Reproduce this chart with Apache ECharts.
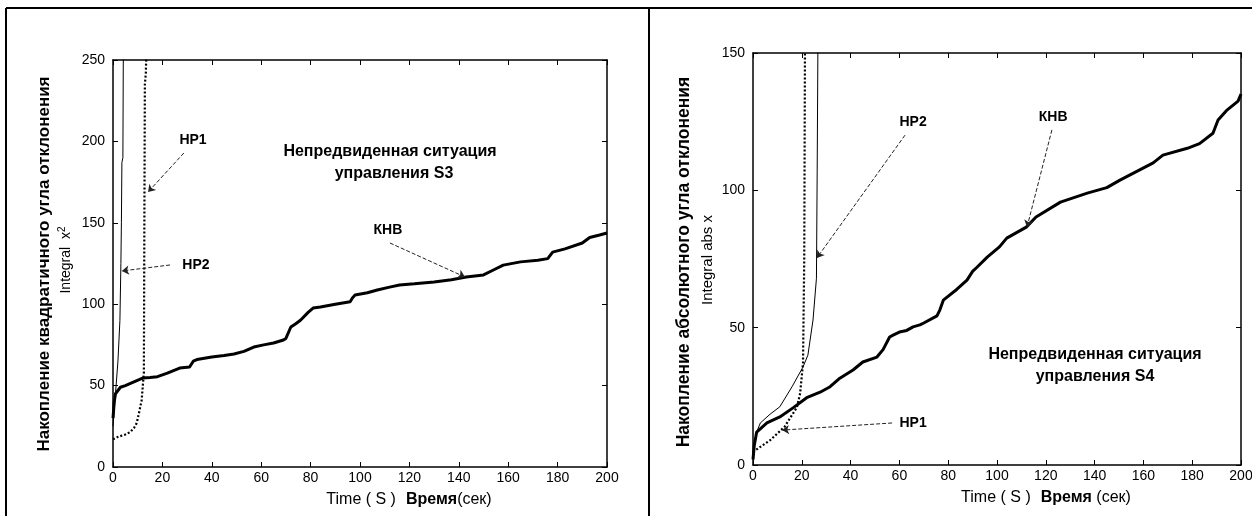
<!DOCTYPE html>
<html>
<head>
<meta charset="utf-8">
<script src="https://cdn.jsdelivr.net/npm/echarts@6/dist/echarts.min.js"></script>
<style>
  html, body { margin: 0; padding: 0; background: #fff; }
  #chart { width: 1252px; height: 516px; }
</style>
</head>
<body>
<div id="chart"></div>
<script>
// --- S3 panel (left): integral of x^2
const s3KhbTime = [0, 0.5, 1, 3, 5, 8, 12, 15, 18, 22, 27, 31, 32.5, 34, 40, 45, 49, 53, 57, 61, 65, 69, 70, 72, 74, 76, 79, 81, 84, 90, 96, 97, 98, 103, 107, 112, 116, 122, 130, 137, 143, 150, 154, 158, 165, 172, 176, 178, 183, 190, 193, 197, 200];
const s3KhbValue = [30, 40, 45, 49, 50, 52, 54.6, 55, 55.5, 57.7, 60.8, 61.4, 65, 66, 67.6, 68.5, 69.4, 71, 73.7, 75, 76.2, 78, 79, 86, 88, 90.3, 95, 97.6, 98.3, 100, 101.5, 104, 105.6, 107, 108.7, 110.5, 111.8, 112.5, 113.6, 115, 116.7, 118, 121, 124, 126, 127, 128, 132, 134, 137.6, 141, 142.5, 143.7];
const s3Hp2Time = [0, 0.5, 1, 2, 2.8, 3.2, 3.4, 3.6, 4, 4.2];
const s3Hp2Value = [25, 35, 45, 65, 90, 125, 150, 187, 190, 260];
const s3Hp1Time = [0, 2, 5, 7, 8.5, 9.6, 10.5, 11.6, 12.5, 12.7, 12.9, 13.3, 13.5];
const s3Hp1Value = [17, 18.5, 20, 21.5, 24, 27, 33, 41, 58, 150, 235, 242, 255];

// --- S4 panel (right): integral of abs x
const s4KhbTime = [0, 0.5, 1.5, 5.7, 11, 16.4, 22, 27.5, 31.6, 35.6, 41, 45, 50.8, 53.3, 56, 57.4, 60, 63, 65.6, 68.4, 70, 75.4, 76.6, 78, 83.6, 87.7, 90, 91.8, 96, 101, 104, 112, 116, 126, 137, 145, 150.4, 164, 168, 178, 183, 188.5, 190.6, 194, 198.8, 200];
const s4KhbValue = [2, 7, 12, 15.3, 17.5, 20.8, 24.5, 26.5, 28.5, 31.6, 34.6, 37.5, 39.3, 42, 46.6, 47.3, 48.4, 49, 50.3, 51, 51.7, 54.3, 56.5, 60, 64, 67.3, 70.5, 72, 75.7, 79.4, 82.6, 86.6, 90.3, 95.7, 99, 101, 103.7, 110, 112.8, 115.3, 117, 120.8, 125.6, 129, 132.5, 135];
const s4Hp2Time = [0, 0.5, 1.5, 3, 7, 11, 16, 20.5, 22.5, 24.6, 26, 26.3, 26.6];
const s4Hp2Value = [2, 8, 12, 15.3, 18.5, 21.2, 28.5, 35.7, 40, 52.8, 68, 107, 152];
const s4Hp1Time = [0, 2, 7, 13, 18, 19.3, 20.5, 21, 21.3];
const s4Hp1Value = [4.7, 6, 9, 14, 21, 26, 37, 75, 152];

// axes
const timeRange = [0, 200, 20];
const s3Range = [0, 250, 50];
const s4Range = [0, 150, 50];

// annotations: [text, labelTime, labelValue, arrowFromTime, arrowFromValue, arrowToTime, arrowToValue]
const s3Notes = [
  ['HP1', 32.4, 201, 28.7, 192.9, 14.2, 168.9],
  ['HP2', 33.6, 124, 23.1, 124.1, 3.6, 120.4],
  ['КНВ', 111.3, 145.6, 112.1, 137.6, 142.5, 116.7]
];
const s4Notes = [
  ['HP2', 65.6, 124.9, 62.3, 120.1, 26.2, 75.4],
  ['КНВ', 123, 126.7, 122.5, 122, 112.3, 86.6],
  ['HP1', 65.6, 15.3, 57, 15.3, 11.9, 12.7]
];

const FONT = 'Arial, "Liberation Sans", sans-serif';

const zip = (t, v) => t.map((x, i) => [x, v[i]]);

function axisPair(gridIndex, range, isX) {
  const common = {
    gridIndex: gridIndex,
    type: 'value',
    min: range[0], max: range[1], interval: range[2],
    splitLine: { show: false },
    axisLine: { show: true, onZero: false, lineStyle: { color: '#000', width: 1.5 } },
    axisTick: { show: true, inside: true, length: 5, lineStyle: { color: '#000', width: 1 } }
  };
  const main = Object.assign({}, common, {
    position: isX ? 'bottom' : 'left',
    axisLabel: { show: true, color: '#000', fontFamily: FONT, fontSize: 14, margin: isX ? 4 : 8 }
  });
  const mirror = Object.assign({}, common, {
    position: isX ? 'top' : 'right',
    axisLabel: { show: false }
  });
  return [main, mirror];
}

function arrows(notes) {
  return {
    silent: true,
    symbol: ['none', 'arrow'],
    symbolSize: 7,
    label: { show: false },
    lineStyle: { type: 'dashed', color: '#222', width: 1 },
    data: notes.map(n => [{ coord: [n[3], n[4]] }, { coord: [n[5], n[6]] }])
  };
}

function line(name, data, axisIndex, style, mark) {
  const s = {
    name: name, type: 'line', data: data,
    xAxisIndex: axisIndex, yAxisIndex: axisIndex,
    showSymbol: false, symbol: 'none', smooth: false, clip: true,
    lineStyle: style, silent: true
  };
  if (mark) s.markLine = mark;
  return s;
}

const thick = { color: '#000', width: 3 };
const thin = { color: '#000', width: 1 };
const dots = { color: '#000', width: 2.2, type: [2, 2] };

const xa = axisPair(0, timeRange, true).concat(axisPair(1, timeRange, true));
const ya = axisPair(0, s3Range, false).concat(axisPair(1, s4Range, false));

const option = {
  animation: false,
  backgroundColor: '#fff',
  textStyle: { fontFamily: FONT, color: '#000' },
  grid: [
    { left: 113, top: 60, width: 494, height: 407, outerBoundsMode: 'none' },
    { left: 753, top: 53, width: 488, height: 412, outerBoundsMode: 'none' }
  ],
  xAxis: xa,
  yAxis: ya,
  series: [
    line('КНВ S3', zip(s3KhbTime, s3KhbValue), 0, thick, arrows(s3Notes)),
    line('HP2 S3', zip(s3Hp2Time, s3Hp2Value), 0, thin),
    line('HP1 S3', zip(s3Hp1Time, s3Hp1Value), 0, dots),
    line('КНВ S4', zip(s4KhbTime, s4KhbValue), 2, thick, arrows(s4Notes)),
    line('HP2 S4', zip(s4Hp2Time, s4Hp2Value), 2, thin),
    line('HP1 S4', zip(s4Hp1Time, s4Hp1Value), 2, dots)
  ]
};

const chart = echarts.init(document.getElementById('chart'), null, { renderer: 'canvas' });
chart.setOption(option);

// text placed after layout so the annotations sit on data coordinates
const graphics = [];
const boldText = (x, y, text, size) => ({
  type: 'text', silent: true, x: x, y: y,
  style: { text: text, font: 'bold ' + size + 'px ' + FONT, fill: '#000', align: 'center', verticalAlign: 'middle' }
});
const vText = (x, y, text, font) => ({
  type: 'text', silent: true, x: x, y: y, rotation: Math.PI / 2,
  style: { text: text, font: font, fill: '#000', align: 'center', verticalAlign: 'middle' }
});

[[0, s3Notes], [1, s4Notes]].forEach(([g, notes]) => {
  notes.forEach(n => {
    const p = chart.convertToPixel({ gridIndex: g }, [n[1], n[2]]);
    graphics.push(boldText(p[0], p[1], n[0], 14));
  });
});

// situation captions
graphics.push(boldText(390, 152, 'Непредвиденная ситуация', 16));
graphics.push(boldText(394, 174, 'управления S3', 16));
graphics.push(boldText(1095, 355, 'Непредвиденная ситуация', 16));
graphics.push(boldText(1095, 377, 'управления S4', 16));

// y axis titles
graphics.push(vText(44, 264, 'Накопление квадратичного угла отклонения', 'bold 17px ' + FONT));
graphics.push({
  type: 'text', silent: true, x: 66, y: 260, rotation: Math.PI / 2,
  style: {
    text: '{a|Integral  x}{s|2}', align: 'center', verticalAlign: 'middle', fill: '#000',
    rich: { a: { font: '14px ' + FONT, fill: '#000' }, s: { font: '10px ' + FONT, fill: '#000', verticalAlign: 'top', padding: [0, 0, 8, 0] } }
  }
});
graphics.push(vText(684, 262, 'Накопление абсолютного угла отклонения', 'bold 17.5px ' + FONT));
graphics.push(vText(708, 260, 'Integral abs x', '15px ' + FONT));

// x axis titles
const timeTitle = (x, y, tail) => ({
  type: 'text', silent: true, x: x, y: y,
  style: {
    text: '{a|Time ( S )}   {b|Время}{a|' + tail + '}', align: 'center', verticalAlign: 'middle', fill: '#000',
    rich: { a: { font: '16px ' + FONT, fill: '#000' }, b: { font: 'bold 16px ' + FONT, fill: '#000' } }
  }
});
graphics.push(timeTitle(409, 500, '(сек)'));
graphics.push(timeTitle(1046, 498, ' (сек)'));

// panel frame
const frame = { stroke: '#000', lineWidth: 2 };
graphics.push({ type: 'line', silent: true, shape: { x1: 6, y1: 8, x2: 1252, y2: 8 }, style: frame });
graphics.push({ type: 'line', silent: true, shape: { x1: 6, y1: 8, x2: 6, y2: 516 }, style: frame });
graphics.push({ type: 'line', silent: true, shape: { x1: 649, y1: 8, x2: 649, y2: 516 }, style: frame });

chart.setOption({ graphic: graphics });

window.addEventListener('resize', () => {
  chart.resize();
});
</script>
</body>
</html>
